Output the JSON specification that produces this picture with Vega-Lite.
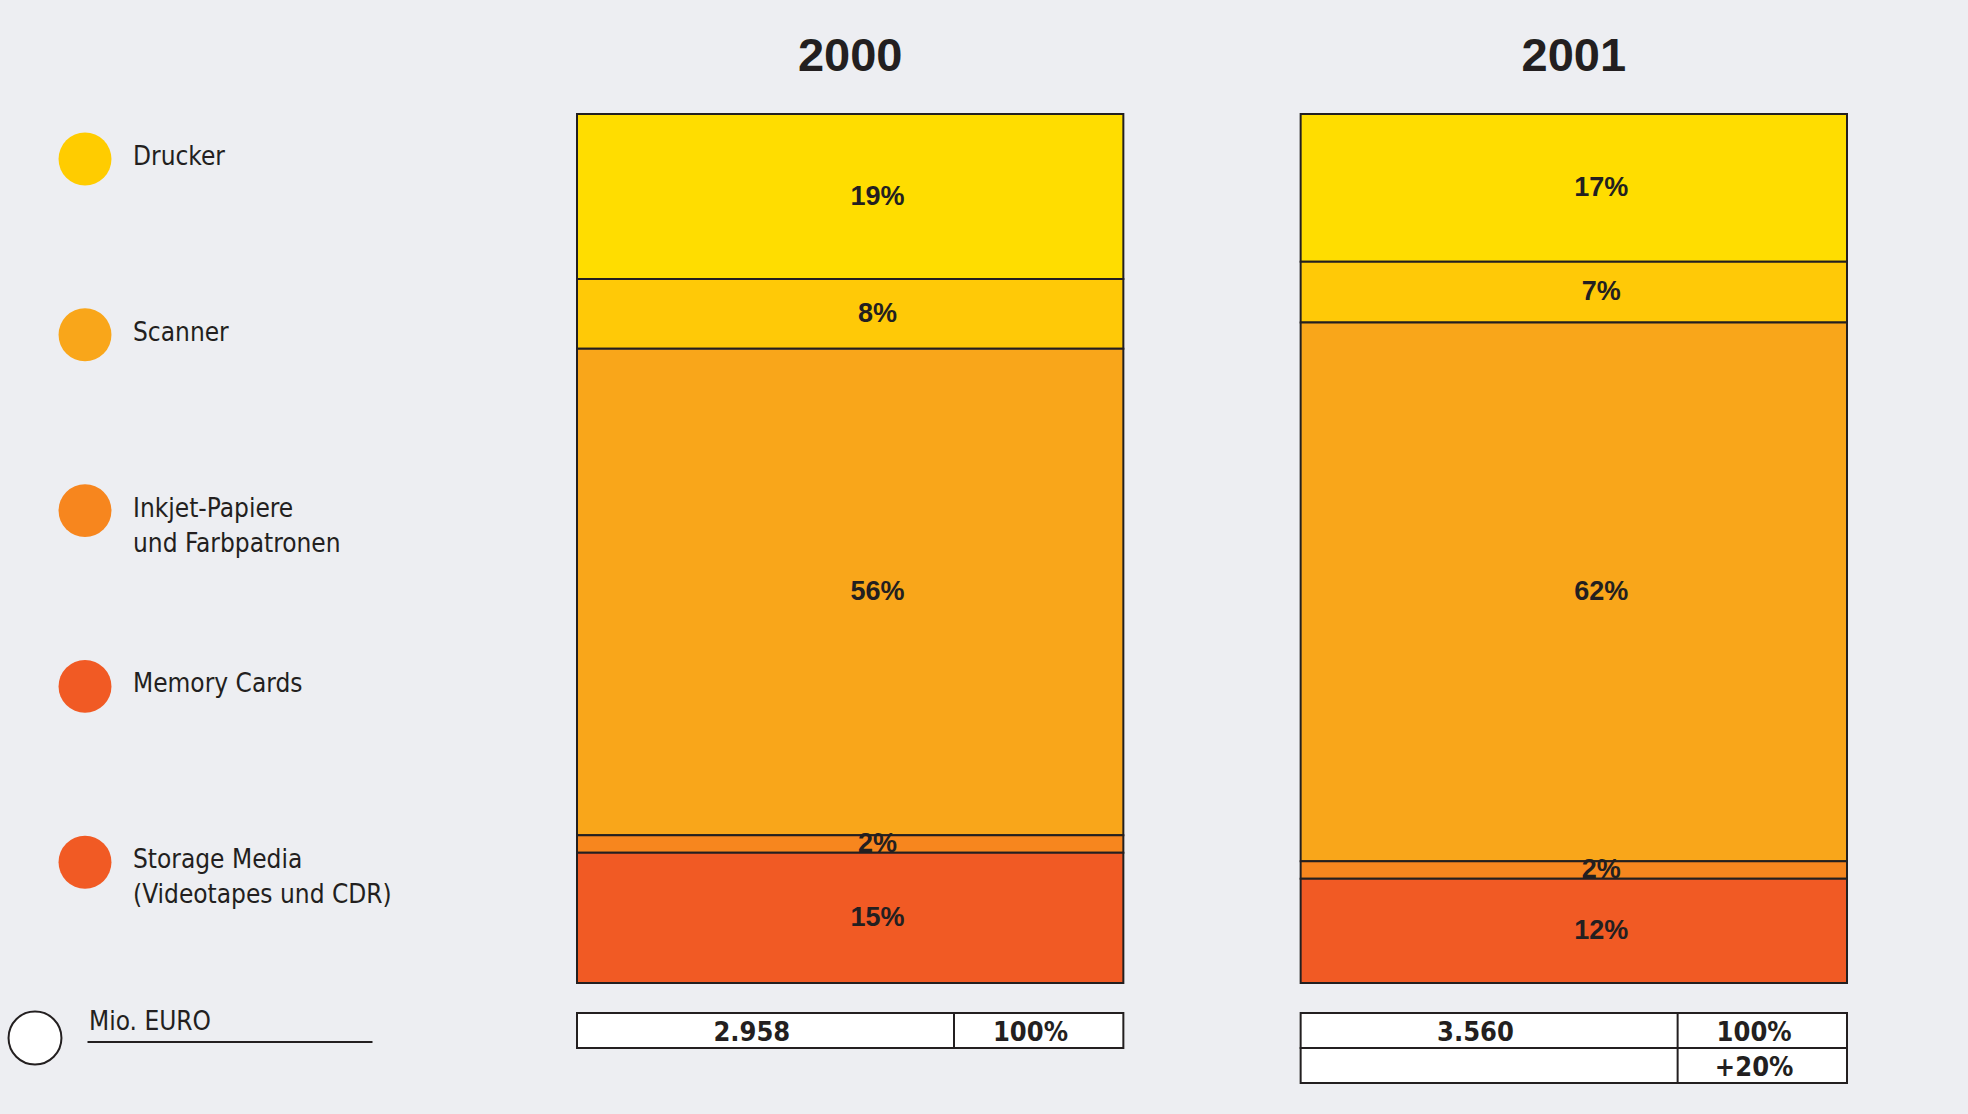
{
  "$schema": "https://vega.github.io/schema/vega-lite/v6.json",
  "padding": {"left": 0, "top": 32, "right": 120, "bottom": 31},
  "background": "#EDEEF2",
  "config": {"view": {"stroke": null}},
  "datasets": {
    "shares": [
      {"year": "2000", "category": "Drucker", "share": 0.19},
      {"year": "2000", "category": "Scanner", "share": 0.08},
      {"year": "2000", "category": "Inkjet-Papiere und Farbpatronen", "share": 0.56},
      {"year": "2000", "category": "Memory Cards", "share": 0.02},
      {"year": "2000", "category": "Storage Media (Videotapes und CDR)", "share": 0.15},
      {"year": "2001", "category": "Drucker", "share": 0.17},
      {"year": "2001", "category": "Scanner", "share": 0.07},
      {"year": "2001", "category": "Inkjet-Papiere und Farbpatronen", "share": 0.62},
      {"year": "2001", "category": "Memory Cards", "share": 0.02},
      {"year": "2001", "category": "Storage Media (Videotapes und CDR)", "share": 0.12}
    ],
    "totals": [
      {"year": "2000", "row": 1, "value": "2.958", "pct": "100%"},
      {"year": "2001", "row": 1, "value": "3.560", "pct": "100%"},
      {"year": "2001", "row": 2, "value": "", "pct": "+20%"}
    ],
    "legend": [
      {"label": "Drucker"},
      {"label": "Scanner"},
      {"label": "Inkjet-Papiere\nund Farbpatronen"},
      {"label": "Memory Cards"},
      {"label": "Storage Media\n(Videotapes und CDR)"},
      {"label": "Mio. EURO"}
    ]
  },
  "bounds": "flush",
  "spacing": 407,
  "resolve": {"scale": {"color": "independent", "y": "independent", "x": "independent", "stroke": "independent"}},
  "hconcat": [
    {
      "width": 170,
      "height": 969,
      "data": {"name": "legend"},
      "encoding": {
        "y": {"field": "label", "type": "nominal", "sort": null, "scale": {"type": "point", "padding": 0.256}, "axis": null},
        "color": {"field": "label", "type": "nominal", "sort": null, "legend": null,
          "scale": {"domain": ["Drucker", "Scanner", "Inkjet-Papiere\nund Farbpatronen", "Memory Cards", "Storage Media\n(Videotapes und CDR)", "Mio. EURO"],
                    "range": ["#FFCC00", "#F9A61A", "#F7861E", "#F15A24", "#F15A24", "#FFFFFF"]}}
      },
      "layer": [
        {
          "transform": [{"filter": "datum.label != 'Mio. EURO'"}],
          "mark": {"type": "point", "shape": "circle", "filled": true, "size": 2800, "opacity": 1}
        },
        {
          "transform": [{"filter": "datum.label == 'Mio. EURO'"}],
          "mark": {"type": "point", "shape": "circle", "filled": true, "size": 2800, "opacity": 1, "stroke": "#231F20", "strokeWidth": 2, "xOffset": -50}
        },
        {
          "transform": [{"filter": "datum.label != 'Mio. EURO'"}],
          "mark": {"type": "text", "align": "left", "baseline": "top", "dx": 48, "dy": -15, "font": "DejaVu Sans Condensed, sans-serif", "fontSize": 26, "lineBreak": "\n", "lineHeight": 35, "fill": "#231F20"},
          "encoding": {"text": {"field": "label"}, "color": {"value": "#231F20"}}
        },
        {
          "transform": [{"filter": "datum.label == 'Mio. EURO'"}],
          "mark": {"type": "text", "align": "left", "baseline": "top", "dx": 4, "dy": -29, "font": "DejaVu Sans Condensed, sans-serif", "fontSize": 26},
          "encoding": {"text": {"field": "label"}, "color": {"value": "#231F20"}}
        },
        {
          "transform": [{"filter": "datum.label == 'Mio. EURO'"}],
          "mark": {"type": "tick", "orient": "horizontal", "size": 285, "thickness": 2, "xOffset": 145, "yOffset": 4, "opacity": 1},
          "encoding": {"color": {"value": "#231F20"}}
        }
      ]
    },
    {
      "bounds": "flush",
      "spacing": 30,
      "vconcat": [
        {
          "width": 1270,
          "height": 869,
          "data": {"name": "shares"},
          "transform": [{"window": [{"op": "row_number", "as": "idx"}], "groupby": ["year"]}],
          "encoding": {
            "x": {"field": "year", "type": "nominal",
              "scale": {"domain": ["2000", "2001"], "paddingInner": 0.245, "paddingOuter": 0},
              "axis": {"orient": "top", "title": null, "domain": false, "ticks": false, "tickSize": 0, "labelAngle": 0,
                       "labelFont": "Liberation Sans", "labelFontWeight": "bold", "labelFontSize": 47, "labelColor": "#231F20",
                       "labelPadding": 44, "labelBaseline": "alphabetic"}},
            "y": {"field": "share", "type": "quantitative", "stack": "zero", "scale": {"domain": [0, 1]}, "axis": null},
            "order": {"field": "idx", "type": "quantitative", "sort": "descending"}
          },
          "layer": [
            {"mark": {"type": "bar", "stroke": "#231F20", "strokeWidth": 2},
             "encoding": {
               "color": {"field": "category", "type": "nominal", "legend": null,
                 "scale": {"domain": ["Drucker", "Scanner", "Inkjet-Papiere und Farbpatronen", "Memory Cards", "Storage Media (Videotapes und CDR)"],
                           "range": ["#FFDD00", "#FFC907", "#F9A61A", "#F7861E", "#F15A24"]}}
             }},
            {
              "mark": {"type": "text", "font": "Liberation Sans", "fontWeight": "bold", "fontSize": 27, "baseline": "middle", "color": "#231F20"},
              "encoding": {
                "x": {"field": "year", "type": "nominal", "bandPosition": 0.55},
                "y": {"field": "share", "type": "quantitative", "stack": "zero", "bandPosition": 0.5},
                "detail": {"field": "category"},
                "text": {"field": "share", "type": "quantitative", "format": ".0%"}
              }
            }
          ]
        },
        {
          "width": 1270,
          "height": 70,
          "data": {"name": "totals"},
          "encoding": {
            "x": {"field": "year", "type": "nominal", "scale": {"domain": ["2000", "2001"], "paddingInner": 0.245, "paddingOuter": 0}, "axis": null},
            "y": {"field": "row", "type": "ordinal", "scale": {"domain": [1, 2], "paddingInner": 0, "paddingOuter": 0}, "axis": null}
          },
          "layer": [
            {"mark": {"type": "rect", "fill": "#FFFFFF", "stroke": "#231F20", "strokeWidth": 2}},
            {"mark": {"type": "tick", "orient": "vertical", "color": "#231F20", "size": 35, "thickness": 2, "opacity": 1},
             "encoding": {"x": {"field": "year", "type": "nominal", "bandPosition": 0.69}}},
            {"mark": {"type": "text", "font": "DejaVu Sans Condensed, sans-serif", "fontWeight": "bold", "fontSize": 27, "color": "#231F20", "baseline": "middle", "dy": 2},
             "encoding": {"x": {"field": "year", "type": "nominal", "bandPosition": 0.32}, "text": {"field": "value"}}},
            {"mark": {"type": "text", "font": "DejaVu Sans Condensed, sans-serif", "fontWeight": "bold", "fontSize": 27, "color": "#231F20", "baseline": "middle", "dy": 2},
             "encoding": {"x": {"field": "year", "type": "nominal", "bandPosition": 0.83}, "text": {"field": "pct"}}}
          ]
        }
      ]
    }
  ]
}
